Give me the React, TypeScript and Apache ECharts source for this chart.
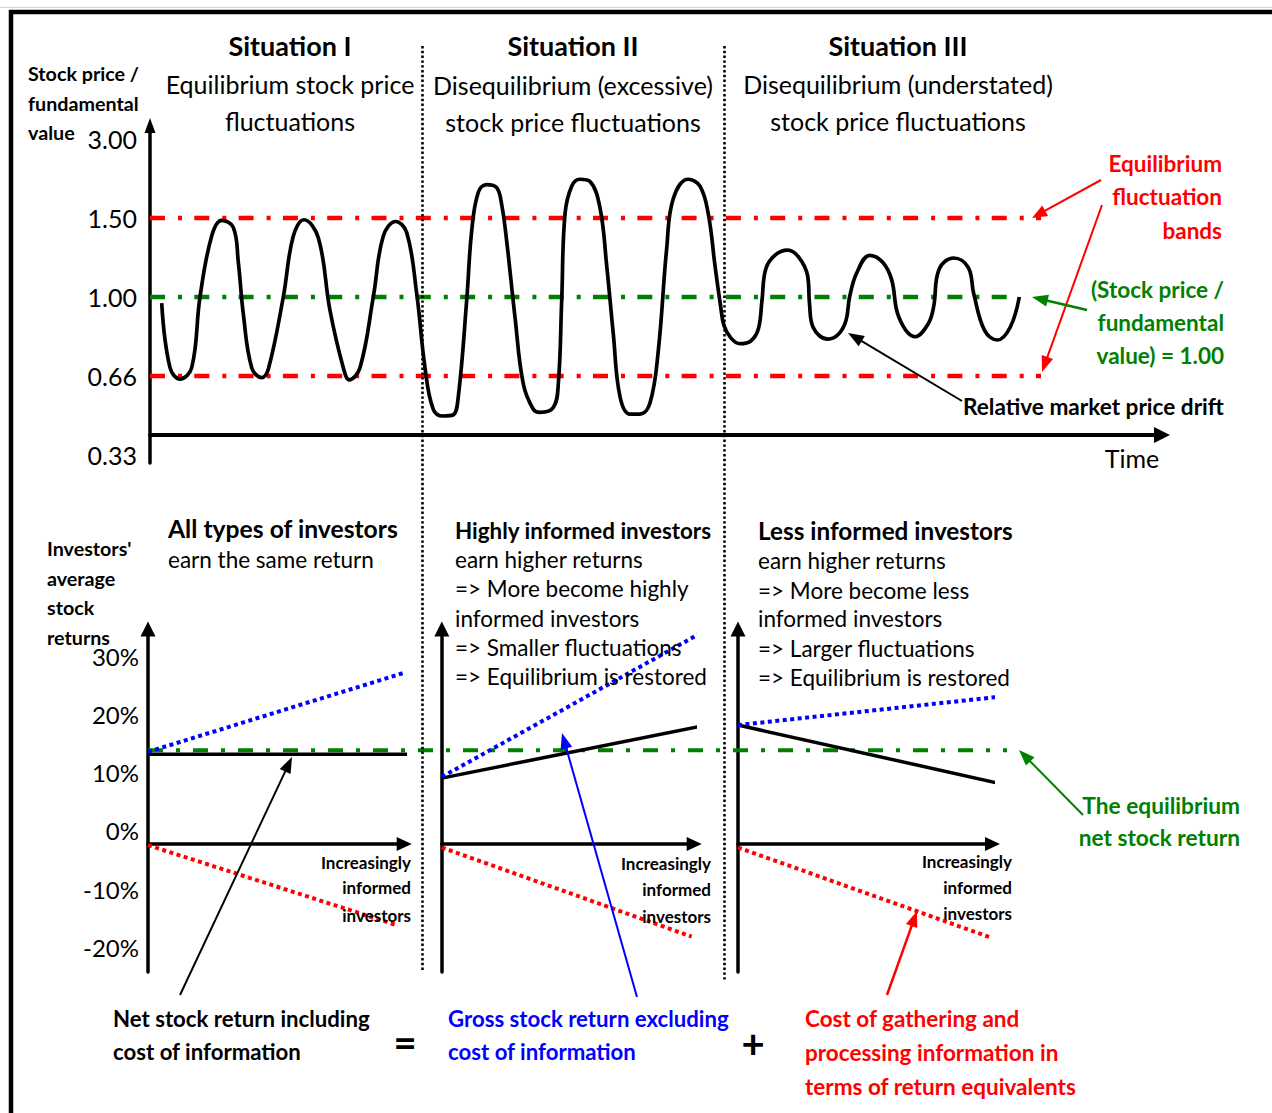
import React, { useEffect, useRef } from "react";
import * as echarts from "echarts";

// ---------------- Top panel: stock price / fundamental value over time ----------------
const priceTickValues = [0.33, 0.66, 1.0, 1.5, 3.0];
const priceTickLabels = ["0.33", "0.66", "1.00", "1.50", "3.00"];
const upperBand = 1.5;
const lowerBand = 0.66;
const fundamentalRatio = 1.0;
const bandEndTime = 89.1;
const fundamentalEndTime = 86.7;
const timeAxisMax = 101.2;

// Relative market price drift (time units, stock price / fundamental value)
const driftTime = [
  1.17, 2.0, 3.0, 4.17, 5.0, 6.17, 7.17, 8.33, 8.83, 9.33, 10.17, 11.17, 11.83, 13.33, 14.33, 15.4, 16.83, 18.0,
  19.33, 19.93, 21.0, 22.33, 23.33, 24.57, 25.67, 26.67, 27.5, 28.33,
  29.3, 30.3, 30.83, 31.67, 32.17, 32.83, 33.67, 34.67, 35.17, 35.67, 36.5, 37.33, 38.33, 39.0, 40.33, 40.83,
  41.17, 41.5, 42.17, 43.0, 44.0, 45.0, 45.67, 46.33, 47.0, 48.0, 49.0, 50.0, 50.83, 51.67, 52.33, 53.83, 55.0,
  55.83, 56.5, 57.05, 57.4, 58.1, 59.0,
  60.11, 60.84, 61.2, 61.57, 62.48, 63.76, 64.85, 65.77, 65.95, 66.31, 67.77, 68.87, 69.6, 69.96, 70.69, 71.97,
  73.25, 74.16, 74.89, 76.53, 77.81, 78.36, 78.91, 80.36, 81.82, 82.37, 83.47, 84.74, 86.02, 86.93,
];
const driftRatio = [
  0.974, 0.696, 0.647, 0.696, 1.0, 1.386, 1.485, 1.441, 1.221, 0.928, 0.696, 0.653, 0.689, 1.0, 1.386, 1.489, 1.375, 0.942,
  0.696, 0.644, 0.696, 1.0, 1.386, 1.478, 1.408, 1.022, 0.696, 0.521,
  0.493, 0.497, 0.574, 0.986, 1.419, 1.989, 2.135, 2.077, 1.752, 1.353, 0.913, 0.627, 0.521, 0.508, 0.528, 0.627,
  0.986, 1.576, 2.105, 2.236, 2.194, 1.694, 1.198, 0.841, 0.574, 0.501, 0.501, 0.547, 0.769, 1.308, 1.871, 2.236, 2.105,
  1.576, 1.198, 0.964, 0.877, 0.823, 0.799,
  0.812, 0.863, 0.986, 1.176, 1.264, 1.297, 1.254, 1.132, 0.971, 0.87, 0.819, 0.841, 0.899, 1.0, 1.155, 1.264,
  1.221, 1.11, 0.913, 0.829, 0.884, 0.957, 1.176, 1.247, 1.188, 1.022, 0.855, 0.815, 0.87, 1.0,
];

// ---------------- Bottom panels: investors' average stock returns (%) ----------------
const returnTicks = [-20, -10, 0, 10, 20, 30];
const equilibriumReturn = 16.1;

// Situation I
const s1NetX = [0, 103], s1Net = [15.4, 15.4];
const s1GrossX = [0, 99.5], s1Gross = [15.8, 29.3];
const s1CostX = [0, 97.6], s1Cost = [-0.2, -14.0];
// Situation II
const s2NetX = [0, 102.5], s2Net = [11.3, 20.2];
const s2GrossX = [0, 103.5], s2Gross = [11.5, 36.4];
const s2CostX = [0, 99], s2Cost = [-0.6, -15.9];
// Situation III
const s3NetX = [0, 103.6], s3Net = [20.4, 10.3];
const s3GrossX = [0, 103.6], s3Gross = [20.4, 25.3];
const s3CostX = [0, 99], s3Cost = [-0.6, -16.0];

const FONT = "Lato, 'Open Sans', sans-serif";
const RED = "#ff0000";
const GREEN = "#008000";
const BLUE = "#0000ff";

function toLevel(r: number): number {
  const v = priceTickValues;
  for (let i = 0; i < v.length - 1; i++) {
    if (r <= v[i + 1] || i === v.length - 2) return i + (r - v[i]) / (v[i + 1] - v[i]);
  }
  return 0;
}

function txt(t: string, x: number, y: number, size: number, bold = false, color = "#000", align = "left") {
  return {
    type: "text",
    z: 50,
    silent: true,
    style: {
      text: t,
      x,
      y,
      fill: color,
      fontSize: size,
      fontWeight: bold ? "bold" : "normal",
      fontFamily: FONT,
      align,
      verticalAlign: "middle",
    },
  };
}

function arrow(x1: number, y1: number, x2: number, y2: number, color: string, lw: number, hl = 16, hw = 12) {
  const dx = x2 - x1, dy = y2 - y1;
  const len = Math.hypot(dx, dy);
  const ux = dx / len, uy = dy / len;
  const bx = x2 - ux * hl, by = y2 - uy * hl;
  const px = (-uy * hw) / 2, py = (ux * hw) / 2;
  return [
    { type: "line", z: 60, silent: true, shape: { x1, y1, x2: bx + ux, y2: by + uy }, style: { stroke: color, lineWidth: lw } },
    { type: "polygon", z: 60, silent: true, shape: { points: [[x2, y2], [bx + px, by + py], [bx - px, by - py]] }, style: { fill: color } },
  ];
}

function vdots(x: number, y1: number, y2: number) {
  return {
    type: "line",
    z: 70,
    silent: true,
    shape: { x1: x, y1, x2: x, y2 },
    style: { stroke: "#000", lineWidth: 2.6, lineDash: [2.4, 2.4] },
  };
}

function line(xi: number, xs: number[], ys: number[], color: string, width: number, type: any, z = 3, smooth: any = false) {
  return {
    type: "line",
    xAxisIndex: xi,
    yAxisIndex: xi,
    data: xs.map((x, i) => [x, ys[i]]),
    showSymbol: false,
    symbol: "none",
    clip: false,
    silent: true,
    smooth,
    z,
    lineStyle: { color, width, type, cap: "butt" },
  };
}

const hiddenX = (g: number, max: number) => ({ gridIndex: g, type: "value", min: 0, max, show: false });
const hiddenY = (g: number, min: number, max: number) => ({ gridIndex: g, type: "value", min, max, show: false });

const RET_MIN = -21.96;
const RET_MAX = 36.88;

function panelX(g: number) {
  return {
    gridIndex: g,
    type: "value",
    min: 0,
    max: 100,
    axisLine: { show: true, onZero: true, symbol: ["none", "triangle"], symbolSize: [14, 15], lineStyle: { color: "#000", width: 3.5 } },
    axisTick: { show: false },
    axisLabel: { show: false },
    splitLine: { show: false },
  };
}

function panelY(g: number, labels: boolean) {
  return {
    gridIndex: g,
    type: "value",
    min: RET_MIN,
    max: RET_MAX,
    axisLine: { show: true, onZero: false, symbol: ["none", "triangle"], symbolSize: [15, 15], lineStyle: { color: "#000", width: 3.5 } },
    axisTick: { show: false },
    splitLine: { show: false },
    axisLabel: labels
      ? {
          show: true,
          customValues: returnTicks,
          formatter: (v: number) => `${Math.round(v)}%`,
          fontSize: 24,
          fontFamily: FONT,
          color: "#000",
          margin: 9,
          verticalAlign: "bottom",
          lineHeight: 26,
        }
      : { show: false },
  };
}

export default function App() {
  const ref = useRef<HTMLDivElement>(null);
  useEffect(() => {
    if (!ref.current) return;
    const chart = echarts.init(ref.current, null, { renderer: "svg" });
    const upperL = toLevel(upperBand);
    const lowerL = toLevel(lowerBand);
    const fundL = toLevel(fundamentalRatio);

    const option: any = {
      animation: false,
      backgroundColor: "#fff",
      grid: [
        { left: 150, top: 125.5, width: 1012, height: 337.5, containLabel: false, outerBoundsMode: "none" },
        { left: 150, top: 125.5, width: 1012, height: 309.5, containLabel: false, outerBoundsMode: "none" },
        { left: 148, top: 629, width: 256.2, height: 343, containLabel: false, outerBoundsMode: "none" },
        { left: 441.8, top: 629, width: 252.4, height: 343, containLabel: false, outerBoundsMode: "none" },
        { left: 738, top: 629, width: 254.5, height: 343, containLabel: false, outerBoundsMode: "none" },
        { left: 148, top: 629, width: 859, height: 343, containLabel: false, outerBoundsMode: "none" },
      ],
      xAxis: [
        hiddenX(0, timeAxisMax),
        {
          gridIndex: 1,
          type: "value",
          min: 0,
          max: timeAxisMax,
          axisLine: { show: true, onZero: false, symbol: ["none", "triangle"], symbolSize: [16, 16], lineStyle: { color: "#000", width: 4 } },
          axisTick: { show: false },
          axisLabel: { show: false },
          splitLine: { show: false },
        },
        panelX(2),
        panelX(3),
        panelX(4),
        hiddenX(5, 100),
      ],
      yAxis: [
        {
          gridIndex: 0,
          type: "value",
          min: -0.101,
          max: 4.171,
          axisLine: { show: true, onZero: false, symbol: ["none", "triangle"], symbolSize: [11, 15], lineStyle: { color: "#000", width: 3.5 } },
          axisTick: { show: false },
          splitLine: { show: false },
          axisLabel: {
            show: true,
            customValues: [0, 1, 2, 3, 4],
            formatter: (v: number) => priceTickLabels[Math.round(v)],
            fontSize: 25,
            fontFamily: FONT,
            color: "#000",
            margin: 13,
          },
        },
        hiddenY(1, 0, 1),
        panelY(2, true),
        panelY(3, false),
        panelY(4, false),
        hiddenY(5, RET_MIN, RET_MAX),
      ],
      series: [
        line(0, [0, bandEndTime], [upperL, upperL], RED, 4.5, [15, 13, 4, 12.3]),
        line(0, [0, bandEndTime], [lowerL, lowerL], RED, 4.5, [15, 13, 4, 12.3]),
        line(0, [0, fundamentalEndTime], [fundL, fundL], GREEN, 4.5, [15, 13, 4, 12.3]),
        line(0, driftTime, driftRatio.map(toLevel), "#000", 3.7, "solid", 5, 0.4),

        line(5, [0, 100], [equilibriumReturn, equilibriumReturn], GREEN, 4, [15, 13, 4, 13], 3),

        line(2, s1CostX, s1Cost, RED, 4, [4, 3.5], 4),
        line(2, s1NetX, s1Net, "#000", 3.5, "solid", 4),
        line(2, s1GrossX, s1Gross, BLUE, 4, [4, 3.5], 5),

        line(3, s2CostX, s2Cost, RED, 4, [4, 3.5], 4),
        line(3, s2NetX, s2Net, "#000", 3.5, "solid", 4),
        line(3, s2GrossX, s2Gross, BLUE, 4, [4, 3.5], 5),

        line(4, s3CostX, s3Cost, RED, 4, [4, 3.5], 4),
        line(4, s3NetX, s3Net, "#000", 3.5, "solid", 4),
        line(4, s3GrossX, s3Gross, BLUE, 4, [4, 3.5], 5),
      ],
      graphic: [
        { type: "line", z: 80, silent: true, shape: { x1: 0, y1: 7.5, x2: 1272, y2: 7.5 }, style: { stroke: "#d4d4d4", lineWidth: 1 } },
        { type: "rect", z: 80, silent: true, shape: { x: 11, y: 12, width: 1400, height: 1300 }, style: { fill: "none", stroke: "#000", lineWidth: 4.5 } },
        vdots(422.5, 46, 972),
        vdots(724.5, 46, 980),

        txt("Situation I", 290, 45, 27, true, "#000", "center"),
        txt("Equilibrium stock price", 290, 84, 25, false, "#000", "center"),
        txt("fluctuations", 290, 121, 25, false, "#000", "center"),
        txt("Situation II", 573, 45, 27, true, "#000", "center"),
        txt("Disequilibrium (excessive)", 573, 85, 25, false, "#000", "center"),
        txt("stock price fluctuations", 573, 122, 25, false, "#000", "center"),
        txt("Situation III", 898, 45, 27, true, "#000", "center"),
        txt("Disequilibrium (understated)", 898, 84, 25, false, "#000", "center"),
        txt("stock price fluctuations", 898, 121, 25, false, "#000", "center"),

        txt("Stock price /", 28, 73, 19.7, true),
        txt("fundamental", 28, 103, 19.7, true),
        txt("value", 28, 132, 19.7, true),

        txt("Equilibrium", 1222, 163, 22.5, true, RED, "right"),
        txt("fluctuation", 1222, 196, 22.5, true, RED, "right"),
        txt("bands", 1222, 230, 22.5, true, RED, "right"),
        txt("(Stock price /", 1224, 289, 22.5, true, GREEN, "right"),
        txt("fundamental", 1224, 322, 22.5, true, GREEN, "right"),
        txt("value) = 1.00", 1224, 355, 22.5, true, GREEN, "right"),
        txt("Relative market price drift", 963, 406, 22.6, true),
        txt("Time", 1132, 458, 25, false, "#000", "center"),

        txt("Investors'", 47, 548, 19.7, true),
        txt("average", 47, 578, 19.7, true),
        txt("stock", 47, 607, 19.7, true),
        txt("returns", 47, 637, 19.7, true),

        txt("All types of investors", 168, 528, 24.7, true),
        txt("earn the same return", 168, 559, 22.5),

        txt("Highly informed investors", 455, 530, 22.4, true),
        txt("earn higher returns", 455, 559, 22.5),
        txt("=> More become highly", 455, 588, 22.5),
        txt("informed investors", 455, 618, 22.5),
        txt("=> Smaller fluctuations", 455, 647, 22.5),
        txt("=> Equilibrium is restored", 455, 676, 22.5),

        txt("Less informed investors", 758, 530, 24.3, true),
        txt("earn higher returns", 758, 560, 22.5),
        txt("=> More become less", 758, 590, 22.5),
        txt("informed investors", 758, 618, 22.5),
        txt("=> Larger fluctuations", 758, 648, 22.5),
        txt("=> Equilibrium is restored", 758, 677, 22.5),

        txt("Increasingly", 411, 862, 17, true, "#000", "right"),
        txt("informed", 411, 887, 17, true, "#000", "right"),
        txt("investors", 411, 915, 17, true, "#000", "right"),
        txt("Increasingly", 711, 863, 17, true, "#000", "right"),
        txt("informed", 711, 889, 17, true, "#000", "right"),
        txt("investors", 711, 916, 17, true, "#000", "right"),
        txt("Increasingly", 1012, 861, 17, true, "#000", "right"),
        txt("informed", 1012, 887, 17, true, "#000", "right"),
        txt("investors", 1012, 913, 17, true, "#000", "right"),

        txt("Net stock return including", 113, 1018, 22.2, true),
        txt("cost of information", 113, 1051, 22.2, true),
        txt("=", 405, 1042, 40, true, "#000", "center"),
        txt("Gross stock return excluding", 448, 1018, 22.2, true, BLUE),
        txt("cost of information", 448, 1051, 22.2, true, BLUE),
        txt("+", 753, 1043, 40, true, "#000", "center"),
        txt("Cost of gathering and", 805, 1018, 22.5, true, RED),
        txt("processing information in", 805, 1052, 22.5, true, RED),
        txt("terms of return equivalents", 805, 1086, 22.5, true, RED),
        txt("The equilibrium", 1240, 805, 22.7, true, GREEN, "right"),
        txt("net stock return", 1240, 837, 22.7, true, GREEN, "right"),

        ...arrow(1101, 180, 1032, 218, RED, 2, 15, 12),
        ...arrow(1102, 205, 1042, 372, RED, 2, 16, 12),
        ...arrow(1087, 310, 1032, 297, GREEN, 2.5, 16, 12),
        ...arrow(962, 401, 848, 333, "#000", 2, 16, 12),
        ...arrow(180, 995, 292, 757, "#000", 2, 16, 12),
        ...arrow(637, 997, 562, 733, BLUE, 2, 16, 12),
        ...arrow(887, 995, 917, 911, RED, 2.5, 16, 12),
        ...arrow(1083, 815, 1019, 750, GREEN, 2, 16, 12),
      ],
    };
    chart.setOption(option);
    return () => chart.dispose();
  }, []);
  return (
    <div
      ref={ref}
      style={{ position: "absolute", left: 0, top: 0, width: 1272, height: 1113, background: "#fff" }}
    />
  );
}
